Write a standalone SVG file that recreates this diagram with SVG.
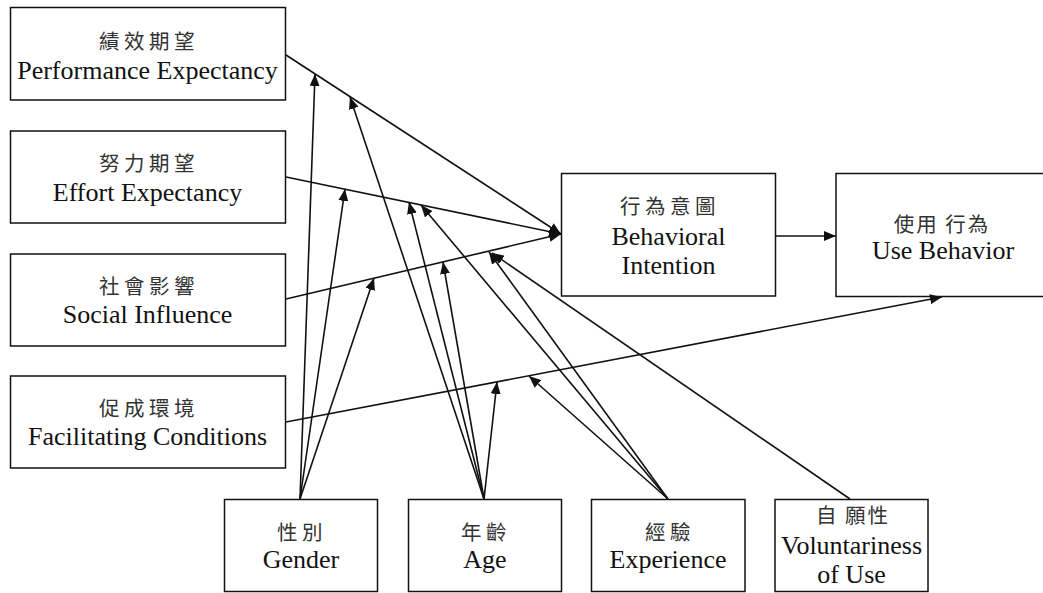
<svg xmlns="http://www.w3.org/2000/svg" width="1043" height="593" viewBox="0 0 1043 593">
  <style>
    .box { fill: #fff; stroke: #111; stroke-width: 1.5; }
    .en { font-family: "Liberation Serif", "Times New Roman", serif; font-size: 26px; fill: #111; text-anchor: middle; }
    .zh { font-family: "Noto Sans CJK TC", "Noto Sans CJK SC", sans-serif; font-size: 20.5px; fill: #333; text-anchor: middle; letter-spacing: 4.5px; }
    .tight { letter-spacing: 2px; }
    .link { fill: none; stroke: #111; stroke-width: 1.6; marker-end: url(#arrow); }
  </style>
  <defs>
    <marker id="arrow" markerUnits="userSpaceOnUse" markerWidth="13" markerHeight="10" refX="12" refY="5" orient="auto">
      <path d="M0,0 L12,5 L0,10 Z" fill="#111"/>
    </marker>
  </defs>
  <rect width="1043" height="593" fill="#fff"/>

  <!-- predictors -->
  <g id="performance-expectancy">
    <rect class="box" x="10.5" y="7.5" width="275" height="92.5"/>
    <text class="zh" x="149" y="48.5">績效期望</text>
    <text class="en" x="147.5" y="79">Performance Expectancy</text>
  </g>
  <g id="effort-expectancy">
    <rect class="box" x="10.5" y="131" width="275" height="92"/>
    <text class="zh" x="149" y="170.5">努力期望</text>
    <text class="en" x="147.5" y="201">Effort Expectancy</text>
  </g>
  <g id="social-influence">
    <rect class="box" x="10.5" y="254" width="275" height="92"/>
    <text class="zh" x="149" y="293.5">社會影響</text>
    <text class="en" x="147.5" y="323">Social Influence</text>
  </g>
  <g id="facilitating-conditions">
    <rect class="box" x="10.5" y="376" width="275" height="92"/>
    <text class="zh" x="149" y="415.5">促成環境</text>
    <text class="en" x="147.5" y="445">Facilitating Conditions</text>
  </g>

  <!-- outcomes -->
  <g id="behavioral-intention">
    <rect class="box" x="561.5" y="173.5" width="214" height="122.5"/>
    <text class="zh" x="670" y="213.5">行為意圖</text>
    <text class="en" x="668.5" y="245">Behavioral</text>
    <text class="en" x="668.5" y="274">Intention</text>
  </g>
  <g id="use-behavior">
    <rect class="box" x="836" y="173.5" width="212" height="123"/>
    <text class="zh tight" x="942" y="231.5">使用 行為</text>
    <text class="en" x="943" y="259">Use Behavior</text>
  </g>

  <!-- moderators -->
  <g id="gender">
    <rect class="box" x="224.5" y="499.5" width="153" height="92"/>
    <text class="zh" x="302" y="539.5">性別</text>
    <text class="en" x="301" y="568">Gender</text>
  </g>
  <g id="age">
    <rect class="box" x="408.5" y="499.5" width="153" height="92"/>
    <text class="zh" x="486" y="539.5">年齡</text>
    <text class="en" x="485" y="568">Age</text>
  </g>
  <g id="experience">
    <rect class="box" x="591.5" y="499.5" width="153.5" height="92"/>
    <text class="zh" x="670" y="539.5">經驗</text>
    <text class="en" x="668" y="568">Experience</text>
  </g>
  <g id="voluntariness">
    <rect class="box" x="775" y="499.5" width="153" height="92"/>
    <text class="zh tight" x="853" y="523">自 願性</text>
    <text class="en" x="851.5" y="554">Voluntariness</text>
    <text class="en" x="851.5" y="583">of Use</text>
  </g>

  <!-- paths and moderating effects -->
  <g id="connectors">
    <line class="link" x1="286" y1="55" x2="561" y2="234"/>
    <line class="link" x1="286" y1="177" x2="561" y2="234"/>
    <line class="link" x1="286" y1="299" x2="561" y2="234"/>
    <line class="link" x1="286" y1="422" x2="942" y2="297"/>
    <line class="link" x1="776" y1="236" x2="836" y2="236"/>

    <line class="link" x1="300" y1="499" x2="315" y2="74"/>
    <line class="link" x1="300" y1="499" x2="345" y2="189"/>
    <line class="link" x1="300" y1="499" x2="374" y2="278"/>

    <line class="link" x1="484" y1="499" x2="350" y2="97"/>
    <line class="link" x1="484" y1="499" x2="409" y2="202"/>
    <line class="link" x1="484" y1="499" x2="443" y2="262"/>
    <line class="link" x1="484" y1="499" x2="497" y2="382"/>

    <line class="link" x1="668" y1="499" x2="421" y2="205"/>
    <line class="link" x1="668" y1="499" x2="489" y2="252"/>
    <line class="link" x1="668" y1="499" x2="529" y2="376"/>

    <line class="link" x1="850" y1="499" x2="492" y2="253"/>
  </g>
</svg>
